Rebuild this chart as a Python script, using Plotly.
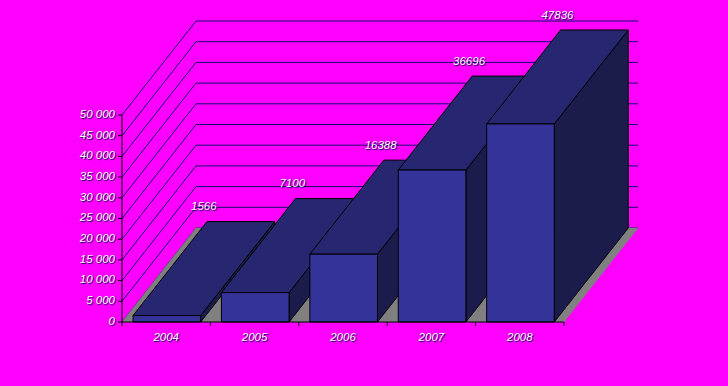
import plotly.graph_objects as go

# ---- data ----
years = ["2004", "2005", "2006", "2007", "2008"]
values = [1566, 7100, 16388, 36696, 47836]
tick_vals = [0, 5000, 10000, 15000, 20000, 25000, 30000, 35000, 40000, 45000, 50000]
tick_text = ["0", "5 000", "10 000", "15 000", "20 000", "25 000", "30 000",
             "35 000", "40 000", "45 000", "50 000"]

# ---- geometry / styling ----
W, H = 728, 386
ORIGIN_X, ORIGIN_Y = 122, 322          # pixel position of (category 0, value 0)
PX_CAT = 88.4                           # pixels per category
PX_VAL = 207 / 50000                    # pixels per value unit
DX = 74 / PX_CAT                        # depth offset (categories)
DY = 94 / PX_VAL                        # depth offset (value units)
BAR_PAD = 0.125
BAR_W = 0.765

BG = "#FF00FF"
FRONT = "#333399"
TOP = "#272771"
SIDE = "#1C1C4C"
GRID = "#10106A"
FLOOR = "#808080"


def px_x(p):
    return p / PX_CAT


def px_y(p):
    return p / PX_VAL


xr = [-ORIGIN_X / PX_CAT, (W - ORIGIN_X) / PX_CAT]
yr = [-(H - ORIGIN_Y) / PX_VAL, ORIGIN_Y / PX_VAL]

n = len(years)
fig = go.Figure()


def poly(xs, ys, fill, line_color="black", width=1):
    fig.add_trace(go.Scatter(
        x=list(xs) + [xs[0]], y=list(ys) + [ys[0]], mode="lines",
        fill="toself", fillcolor=fill,
        line=dict(color=line_color, width=width),
        hoverinfo="skip", showlegend=False))


# back wall + side wall gridlines
gx, gy = [], []
for v in tick_vals:
    gx += [0, DX, n + DX, None]
    gy += [v, v + DY, v + DY, None]
fig.add_trace(go.Scatter(x=gx, y=gy, mode="lines",
                         line=dict(color=GRID, width=1),
                         hoverinfo="skip", showlegend=False))

# floor
poly([0, n, n + DX, DX], [0, 0, DY, DY], FLOOR, line_color=FLOOR, width=0.5)

# bars (left to right so later bars cover earlier side faces)
for i, v in enumerate(values):
    x0 = i + BAR_PAD
    x1 = x0 + BAR_W
    # right side face
    poly([x1, x1 + DX, x1 + DX, x1], [0, DY, v + DY, v], SIDE)
    # top face
    poly([x0, x1, x1 + DX, x0 + DX], [v, v, v + DY, v + DY], TOP)
    # front face
    poly([x0, x1, x1, x0], [0, 0, v, v], FRONT)

# axes lines and ticks
ax, ay = [0, 0, None, 0, n, None], [tick_vals[-1], 0, None, 0, 0, None]
for v in tick_vals:
    ax += [-px_x(4), 0, None]
    ay += [v, v, None]
for i in range(n + 1):
    ax += [i, i, None]
    ay += [0, -px_y(4), None]
fig.add_trace(go.Scatter(x=ax, y=ay, mode="lines",
                         line=dict(color="black", width=1),
                         hoverinfo="skip", showlegend=False))

font = dict(family="Liberation Sans, Arial, sans-serif", size=11.5, color="white",
            style="italic", shadow="1px 1px 1px #000050")

# y tick labels
fig.add_trace(go.Scatter(x=[-px_x(7)] * len(tick_vals), y=tick_vals,
                         mode="text", text=tick_text, textposition="middle left",
                         textfont=font, hoverinfo="skip", showlegend=False))
# category labels
fig.add_trace(go.Scatter(x=[i + 0.5 for i in range(n)], y=[-px_y(10)] * n,
                         mode="text", text=years, textposition="bottom center",
                         textfont=font, hoverinfo="skip", showlegend=False))
# data labels
fig.add_trace(go.Scatter(
    x=[i + BAR_PAD + BAR_W / 2 + DX * 0.5 for i in range(n)],
    y=[v + px_y(108) for v in values],
    mode="text", text=[str(v) for v in values], textposition="middle center",
    textfont=font, hoverinfo="skip", showlegend=False))

fig.update_layout(
    width=W, height=H, margin=dict(l=0, r=0, t=0, b=0, pad=0),
    paper_bgcolor=BG, plot_bgcolor=BG, showlegend=False,
    xaxis=dict(visible=False, range=xr, fixedrange=True),
    yaxis=dict(visible=False, range=yr, fixedrange=True),
)

fig.write_html("out.html", config={"displayModeBar": False},
               post_script="document.body.style.margin='0';")
